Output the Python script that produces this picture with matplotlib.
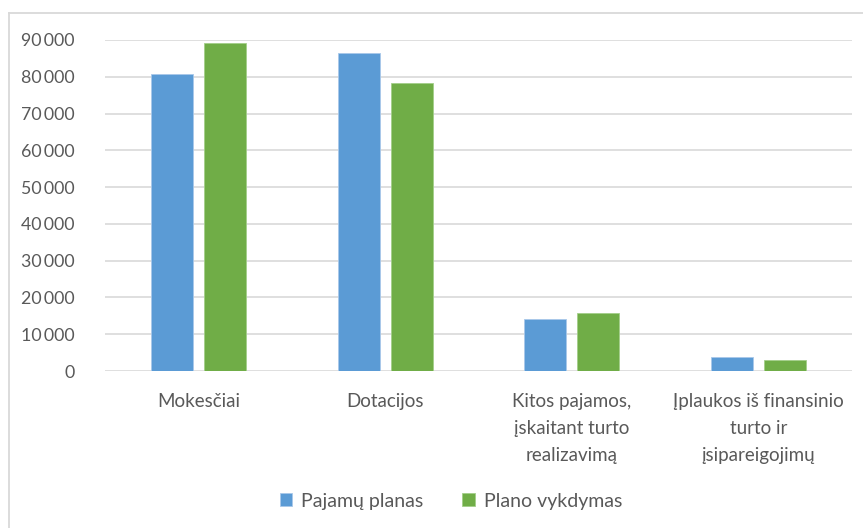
import matplotlib
matplotlib.use("Agg")
import matplotlib.pyplot as plt
from matplotlib.lines import Line2D
from matplotlib.ticker import FuncFormatter, MultipleLocator
import numpy as np

categories = ["Mokesčiai", "Dotacijos", "Kitos pajamos,\nįskaitant turto\nrealizavimą",
              "Įplaukos iš finansinio\nturto ir\nįsipareigojimų"]
series_names = ["Pajamų planas", "Plano vykdymas"]
plan = [80800, 86500, 14100, 3900]
actual = [89300, 78300, 15700, 3000]
colors = ["#5B9BD5", "#70AD47"]

plt.rcParams['font.family'] = ['Lato', 'DejaVu Sans']

fig = plt.figure(figsize=(8.63, 5.28), dpi=100)
ax = fig.add_axes([105/863, 1-371/528, (852-105)/863, (371-40)/528])

x = np.arange(len(categories))
w = 0.225
off = 0.1417
ax.bar(x - off, plan, w, color=colors[0], label=series_names[0], zorder=3,
       edgecolor="#A9C8EA", linewidth=0.6)
ax.bar(x + off, actual, w, color=colors[1], label=series_names[1], zorder=3,
       edgecolor="#A3CF8A", linewidth=0.6)

ax.set_xlim(-0.5, 3.5)
ax.set_ylim(0, 90000)
ax.yaxis.set_major_locator(MultipleLocator(10000))
ax.yaxis.set_major_formatter(FuncFormatter(lambda v, p: f"{int(v):,}".replace(",", "\u2009")))
ax.grid(axis="y", color="#D9D9D9", linewidth=1.2, zorder=0)
for s in ax.spines.values():
    s.set_visible(False)
ax.tick_params(axis="both", length=0, labelcolor="#595959")
ax.tick_params(axis="y", pad=22, labelsize=12.8)
ax.tick_params(axis="x", pad=16, labelsize=13.5)
ax.set_xticks(x)
ax.set_xticklabels(categories, linespacing=1.7)

leg = fig.legend(loc="center", bbox_to_anchor=(451/863, 1-501/528), ncol=2,
                 frameon=False, fontsize=14, handlelength=0.65, handleheight=0.65,
                 handletextpad=0.45, columnspacing=2.0)
for t in leg.get_texts():
    t.set_color("#595959")

fig.add_artist(Line2D([9/863, 1.0], [1-13/528, 1-13/528], transform=fig.transFigure,
                      color="#D9D9D9", linewidth=1.3))
fig.add_artist(Line2D([9/863, 9/863], [0, 1-13/528], transform=fig.transFigure,
                      color="#D9D9D9", linewidth=1.3))

fig.savefig("out.png", dpi=100)
